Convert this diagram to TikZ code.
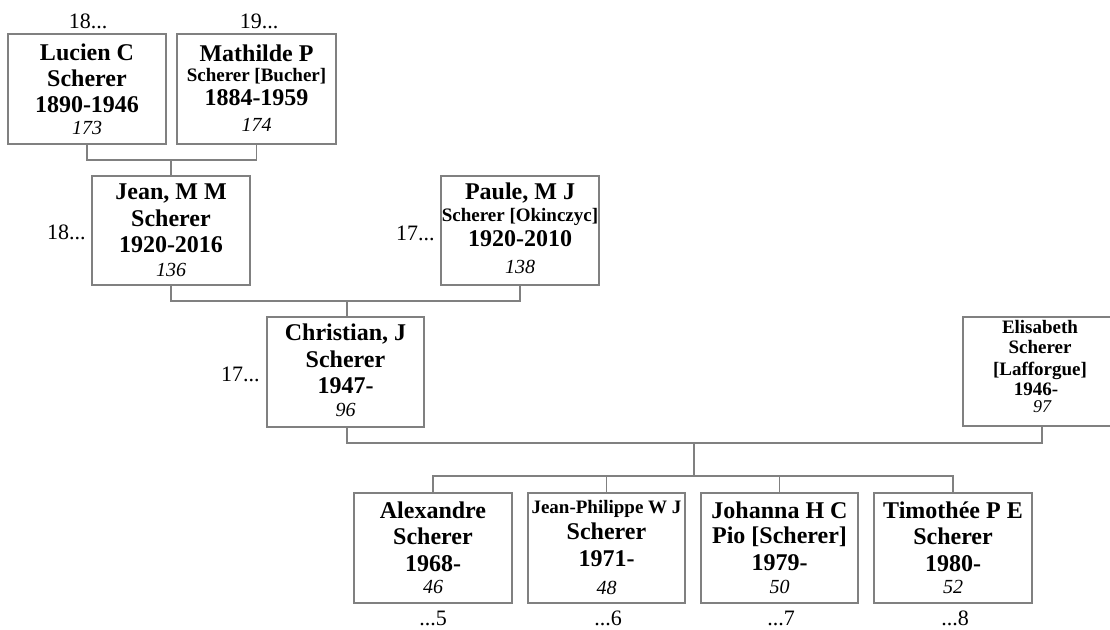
\documentclass[tikz,border=0pt]{standalone}
\usepackage{fontspec}
\setmainfont{Liberation Serif}
\usetikzlibrary{fit}
\definecolor{linegray}{RGB}{128,128,128}
\tikzset{
  pbox/.style={draw=linegray, line width=1pt, inner sep=0pt},
  conn/.style={draw=linegray, line width=1pt},
  big/.style={font=\bfseries\fontsize{18}{18}\selectfont, anchor=base, inner sep=0pt},
  mid/.style={font=\bfseries\fontsize{14.25}{14.25}\selectfont, anchor=base, inner sep=0pt},
  num/.style={font=\itshape\fontsize{15}{15}\selectfont, anchor=base, inner sep=0pt},
  smallnum/.style={font=\itshape\fontsize{13.5}{13.5}\selectfont, anchor=base, inner sep=0pt},
  gen/.style={font=\fontsize{16.5}{16.5}\selectfont, anchor=base, inner sep=0pt},
}
\newcommand\pbox[5]{%
  \coordinate (#1-a) at (#2,#3);
  \coordinate (#1-b) at (#4,#5);
  \node[pbox, fit=(#1-a)(#1-b)] (#1) {};}
\begin{document}
\begin{tikzpicture}[x=0.75pt,y=-0.75pt]
\useasboundingbox (0,0) rectangle (1110,630);

% boxes
\pbox{lucien}{8}{34}{166}{144}
\pbox{mathilde}{177}{34}{336}{144}
\pbox{jean}{92}{176}{250}{285}
\pbox{paule}{441}{176}{599}{285}
\pbox{christian}{267}{317}{424}{427}
\pbox{elisabeth}{963}{317}{1121}{426}
\pbox{alexandre}{354}{493}{512}{603}
\pbox{jeanphilippe}{528}{493}{685}{603}
\pbox{johanna}{701}{493}{858}{603}
\pbox{timothee}{874}{493}{1032}{603}

% Lucien
\node[big] (lucien-1) at (87,61) {Lucien C};
\node[big] (lucien-2) at (87,87) {Scherer};
\node[big] (lucien-3) at (87,113) {1890-1946};
\node[num] (lucien-4) at (87,135) {173};
% Mathilde
\node[big] (mathilde-1) at (256.5,62) {Mathilde P};
\node[mid] (mathilde-2) at (256.5,82) {Scherer [Bucher]};
\node[big] (mathilde-3) at (256.5,106) {1884-1959};
\node[num] (mathilde-4) at (256.5,132) {174};
% Jean
\node[big] (jean-1) at (171,200) {Jean, M M};
\node[big] (jean-2) at (171,227) {Scherer};
\node[big] (jean-3) at (171,253) {1920-2016};
\node[num] (jean-4) at (171,277) {136};
% Paule
\node[big] (paule-1) at (520,200) {Paule, M J};
\node[mid] (paule-2) at (520,222) {Scherer [Okinczyc]};
\node[big] (paule-3) at (520,247) {1920-2010};
\node[num] (paule-4) at (520,274) {138};
% Christian
\node[big] (christian-1) at (345.5,341) {Christian, J};
\node[big] (christian-2) at (345.5,368) {Scherer};
\node[big] (christian-3) at (345.5,394) {1947-};
\node[num] (christian-4) at (345.5,417) {96};
% Elisabeth
\node[mid] (elisabeth-1) at (1040,334) {Elisabeth};
\node[mid] (elisabeth-2) at (1040,354) {Scherer};
\node[mid] (elisabeth-3) at (1040,376) {[Lafforgue]};
\node[mid] (elisabeth-4) at (1036,396) {1946-};
\node[smallnum] (elisabeth-5) at (1042,413) {97};
% Alexandre
\node[big] (alexandre-1) at (433,518) {Alexandre};
\node[big] (alexandre-2) at (433,544) {Scherer};
\node[big] (alexandre-3) at (433,571) {1968-};
\node[num] (alexandre-4) at (433,593) {46};
% Jean-Philippe
\node[mid] (jeanphilippe-1) at (606.5,513) {Jean-Philippe W J};
\node[big] (jeanphilippe-2) at (606.5,540) {Scherer};
\node[big] (jeanphilippe-3) at (606.5,566) {1971-};
\node[num] (jeanphilippe-4) at (606.5,594) {48};
% Johanna
\node[big] (johanna-1) at (779.5,518) {Johanna H C};
\node[big] (johanna-2) at (779.5,543) {Pio [Scherer]};
\node[big] (johanna-3) at (779.5,570) {1979-};
\node[num] (johanna-4) at (779.5,593) {50};
% Timothee
\node[big] (timothee-1) at (953,518) {Timothée P E};
\node[big] (timothee-2) at (953,544) {Scherer};
\node[big] (timothee-3) at (953,571) {1980-};
\node[num] (timothee-4) at (953,593) {52};

% generation labels
\node[gen] (g1) at (88,29) {18...};
\node[gen] (g2) at (259,29) {19...};
\node[gen, anchor=base east] (g3) at (86,240) {18...};
\node[gen, anchor=base east] (g4) at (435,241) {17...};
\node[gen, anchor=base east] (g5) at (260,382) {17...};
\node[gen] (g6) at (433,625) {...5};
\node[gen] (g7) at (608,625) {...6};
\node[gen] (g8) at (781,625) {...7};
\node[gen] (g9) at (955,625) {...8};

% connectors
\coordinate (j1) at (jean.north |- 0,160);
\draw[conn] (lucien.south) |- (j1) -| (mathilde.south);
\draw[conn] (j1) -- (jean.north);
\coordinate (j2) at (347,301);
\draw[conn] (jean.south) |- (j2) -| (paule.south);
\draw[conn] (j2) -- (j2 |- christian.north);
\coordinate (j3) at (694,443);
\coordinate (j4) at (694,476);
\draw[conn] (j2 |- christian.south) |- (j3) -| (elisabeth.south);
\draw[conn] (j3) -- (j4);
\draw[conn] (alexandre.north) |- (j4) -| (timothee.north);
\draw[conn] (jeanphilippe.north) -- (jeanphilippe.north |- j4);
\draw[conn] (johanna.north) -- (johanna.north |- j4);
\end{tikzpicture}
\end{document}
